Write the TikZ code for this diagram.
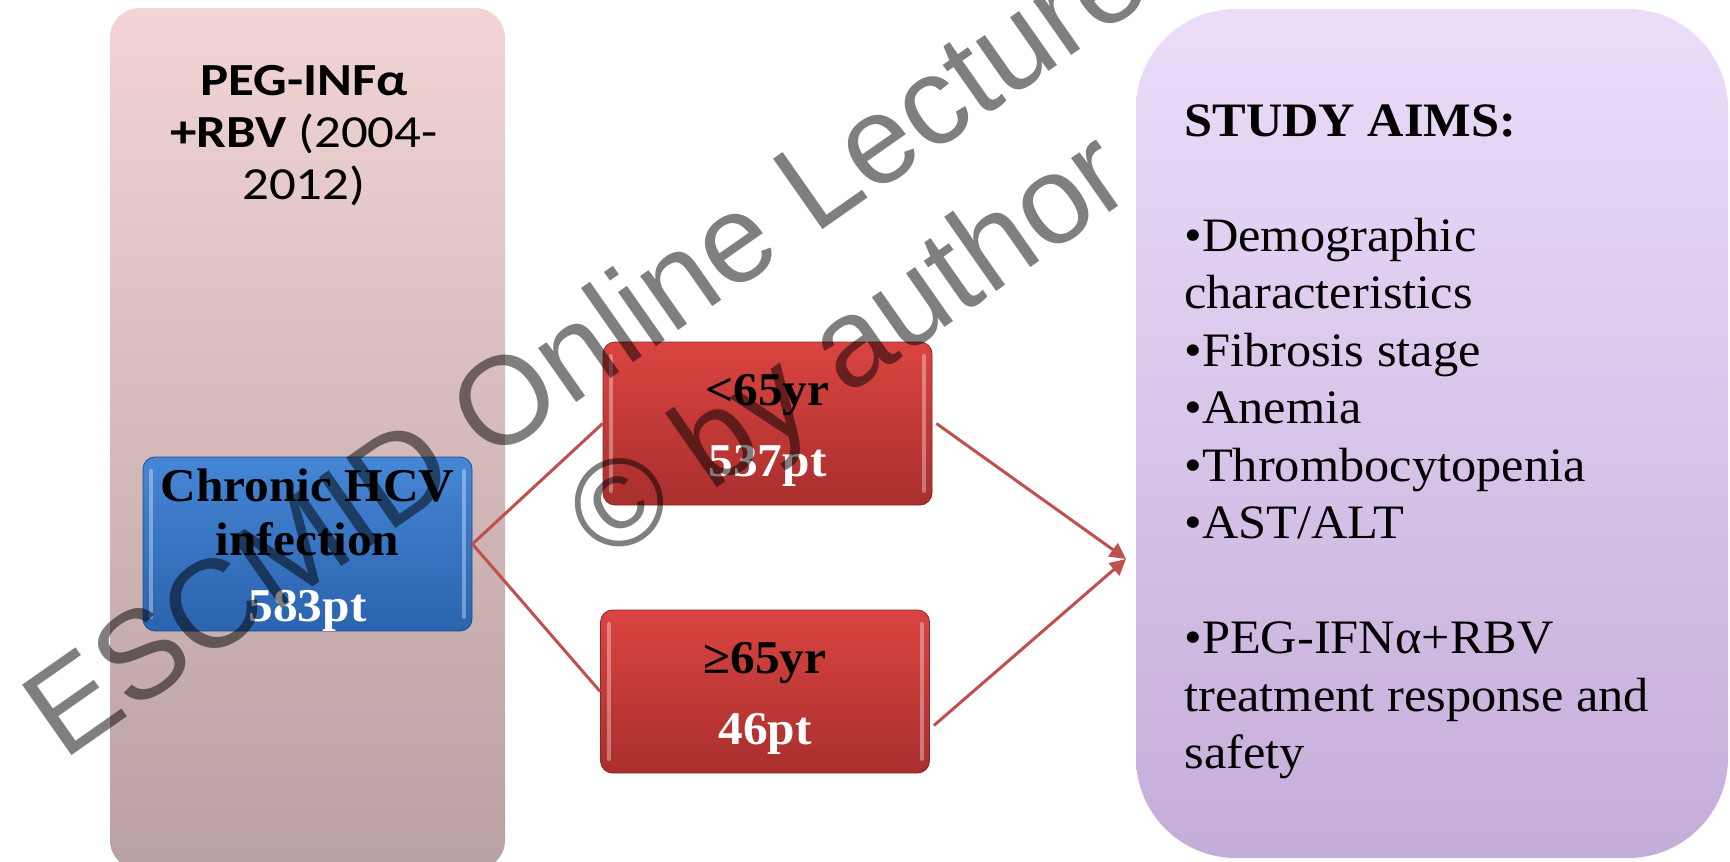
\documentclass[tikz,border=0pt]{standalone}
\usepackage{fontspec}
\setmainfont[FakeStretch=1.05]{Liberation Serif}
\newfontfamily\titlefont[FakeStretch=1.15]{Carlito}
\newfontfamily\wmfont{Liberation Sans}
\usetikzlibrary{arrows.meta,positioning}
\definecolor{periodtop}{HTML}{F2D4D4}
\definecolor{periodbot}{HTML}{B9A0A2}
\definecolor{cohorttop}{HTML}{4586D6}
\definecolor{cohortbot}{HTML}{2B63AE}
\definecolor{agetop}{HTML}{DA4441}
\definecolor{agebot}{HTML}{A92F2D}
\definecolor{aimstop}{HTML}{EBDDFA}
\definecolor{aimsbot}{HTML}{C5ADD9}
\definecolor{linkred}{HTML}{C0504D}

\begin{document}
\begin{tikzpicture}[x=0.5pt,y=-0.5pt,
  boxtext/.style={font=\bfseries\fontsize{23.5}{27}\selectfont,align=center,inner sep=0pt},
  bevel/.style={path picture={
    \draw[white,opacity=0.35,line width=2pt,line cap=round]
      ([shift={(4pt,-7pt)}]path picture bounding box.north west) --
      ([shift={(4pt,7pt)}]path picture bounding box.south west)
      ([shift={(-4pt,-7pt)}]path picture bounding box.north east) --
      ([shift={(-4pt,7pt)}]path picture bounding box.south east);}},
  cohort/.style={boxtext,bevel,rounded corners=6pt,minimum width=164.5pt,minimum height=81pt,
    top color=cohorttop,bottom color=cohortbot,draw=cohortbot!80!black,line width=0.4pt},
  agebox/.style={boxtext,bevel,rounded corners=6pt,minimum width=164.5pt,minimum height=81.5pt,
    top color=agetop,bottom color=agebot,draw=agebot!80!black,line width=0.4pt},
  link/.style={draw=linkred,line width=1.5pt},
  wmtext/.style={font=\wmfont\fontsize{62.5}{70}\selectfont,text=black,text opacity=0.5,
    inner sep=0pt,rotate=35,anchor=base west}]
  \useasboundingbox (0,0) rectangle (1730,862);
  \clip (0,0) rectangle (1730,862);
  \fill[white] (0,0) rectangle (1730,862);

  % Treatment period column
  \node[rounded corners=15pt,minimum width=197.5pt,minimum height=431pt,
    top color=periodtop,bottom color=periodbot] (period) at (307.5,439) {};
  \node[font=\titlefont\fontsize{23}{26}\selectfont,align=center,anchor=north,inner sep=0pt]
    (periodtitle) at (304,65) {{\bfseries PEG-INFα}\\{\bfseries +RBV} (2004-\\2012)};

  % Cohort and age groups
  \node[cohort] (hcv) at (307.5,544)
    {\rule{0pt}{22pt}Chronic HCV\\infection\\[6pt]\textcolor{white}{583pt}};
  \node[agebox] (young) at (767.5,423.5) {\rule{0pt}{22pt}<65yr\\[8.5pt]\textcolor{white}{537pt}};
  \node[agebox] (old) at (765,691.5) {\rule{0pt}{22pt}≥65yr\\[8.5pt]\textcolor{white}{46pt}};

  % Study aims panel
  \node[rounded corners=50pt,minimum width=296pt,minimum height=424.5pt,
    top color=aimstop,bottom color=aimsbot] (aims) at (1432,433.5) {};
  \node[font=\fontsize{24}{28.75}\selectfont,align=left,anchor=north west,inner sep=0pt]
    (aimstext) at (1184,104) {{\bfseries STUDY AIMS:}\\[28.75pt]
    •Demographic\\characteristics\\•Fibrosis stage\\•Anemia\\•Thrombocytopenia\\•AST/ALT\\[28.75pt]
    •PEG-IFNα+RBV\\treatment response and\\safety};

  % Connectors
  \coordinate (aimin) at (1126,559);
  \draw[link] (hcv.east) -- (young.west);
  \draw[link] (hcv.east) -- (old.west);
  \draw[link,-{Triangle[length=8pt,width=8pt]}] ([xshift=2pt]young.east) -- (aimin);
  \draw[link,-{Triangle[length=8pt,width=8pt]}] ([xshift=2pt,yshift=-17pt]old.east) -- (aimin);

  % Watermark
  \node[wmtext] (wmline) at (63,762) {ESCMID Online Lecture};
  \node[wmtext] (wmauthor) at (606,565) {© by author};
\end{tikzpicture}
\end{document}
